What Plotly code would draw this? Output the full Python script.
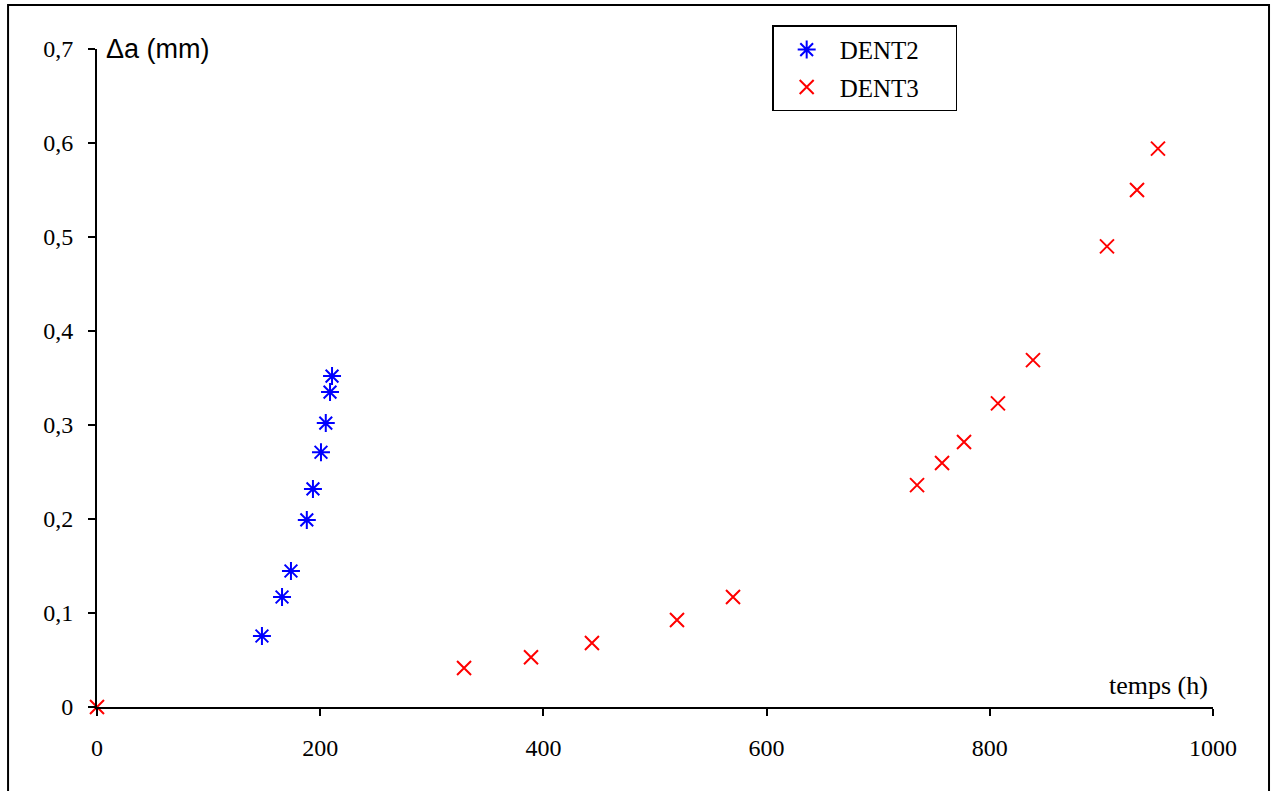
import plotly.graph_objects as go

dent2_t = [147.8, 165.8, 173.8, 188.0, 193.5, 200.7, 205.0, 208.8, 210.6]
dent2_da = [0.0755, 0.117, 0.1447, 0.199, 0.232, 0.271, 0.302, 0.335, 0.352]

dent3_t = [0, 328.9, 388.9, 443.5, 519.7, 569.9, 734.8, 757.2, 776.9, 807.3, 838.7, 905.0, 931.9, 950.7]
dent3_da = [0, 0.0415, 0.053, 0.068, 0.0926, 0.117, 0.236, 0.2596, 0.282, 0.323, 0.369, 0.490, 0.550, 0.594]

x_ticks = [0, 200, 400, 600, 800, 1000]
y_ticks = [0, 0.1, 0.2, 0.3, 0.4, 0.5, 0.6, 0.7]

serif = "Liberation Serif, Times New Roman, serif"
sans = "Liberation Sans, Arial, sans-serif"
pad = "\u00a0" * 5

fig = go.Figure()
fig.add_trace(go.Scatter(
    x=dent2_t, y=dent2_da, mode="markers", name="DENT2" + pad, legendgroup="a",
    marker=dict(symbol="asterisk-open", size=15, color="#0000FF",
                line=dict(color="#0000FF", width=2)),
    cliponaxis=False))
fig.add_trace(go.Scatter(
    x=dent3_t, y=dent3_da, mode="markers", name="DENT3" + pad, legendgroup="b",
    marker=dict(symbol="x-thin-open", size=14, color="#FF0000",
                line=dict(color="#FF0000", width=2)),
    cliponaxis=False))

fig.update_layout(
    width=1277, height=791,
    margin=dict(l=97, r=64, t=49, b=84),
    paper_bgcolor="white", plot_bgcolor="white",
    separators=", ",
    font=dict(family=serif, size=24, color="black"),
    showlegend=True,
    legend=dict(x=0.605, y=1.036, xanchor="left", yanchor="top",
                bordercolor="black", borderwidth=1.5, bgcolor="white",
                font=dict(family=serif, size=25, color="black"),
                traceorder="grouped", tracegroupgap=2,
                itemwidth=56),
    xaxis=dict(range=[0, 1000], tickvals=x_ticks, showgrid=False, zeroline=False,
               showline=True, linecolor="black", linewidth=2,
               ticks="outside", ticklen=7, tickwidth=2, tickcolor="black",
               ticklabelstandoff=11,
               tickfont=dict(family=serif, size=24, color="black")),
    yaxis=dict(range=[0, 0.7], tickvals=y_ticks, showgrid=False, zeroline=False,
               showline=True, linecolor="black", linewidth=2,
               ticks="outside", ticklen=7, tickwidth=2, tickcolor="black",
               ticklabelstandoff=10,
               tickfont=dict(family=serif, size=24, color="black")),
    annotations=[
        dict(text="Δa (mm)", xref="paper", yref="paper", x=0.006, y=1.0,
             xanchor="left", yanchor="middle", showarrow=False,
             font=dict(family=sans, size=27, color="black")),
        dict(text="temps (h)", xref="paper", yref="paper", x=0.9973, y=0.032,
             xanchor="right", yanchor="middle", showarrow=False,
             font=dict(family=serif, size=26, color="black")),
    ],
    shapes=[
        dict(type="rect", xref="paper", yref="paper",
             x0=-0.0797, x1=1.0502, y0=-0.2, y1=1.0669,
             line=dict(color="black", width=2), layer="below"),
    ],
)

fig.write_html("out.html")
